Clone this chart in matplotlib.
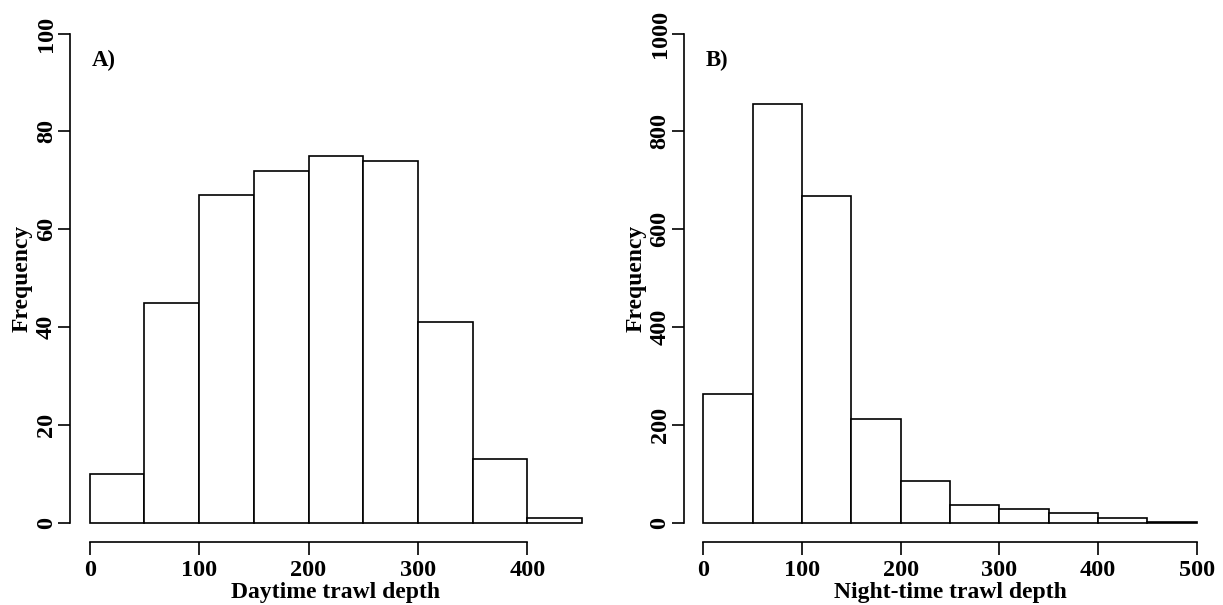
import matplotlib
matplotlib.use("Agg")
import matplotlib.pyplot as plt

plt.rcParams['font.family'] = ['Liberation Serif', 'DejaVu Serif']
plt.rcParams['font.weight'] = 'bold'

# Data
day_bin_edges = [0, 50, 100, 150, 200, 250, 300, 350, 400, 450]
day_counts = [10, 45, 67, 72, 75, 74, 41, 13, 1]
night_bin_edges = [0, 50, 100, 150, 200, 250, 300, 350, 400, 450, 500]
night_counts = [264, 857, 668, 212, 86, 36, 29, 21, 10, 2]

day_xticks = [0, 100, 200, 300, 400]
day_yticks = [0, 20, 40, 60, 80, 100]
night_xticks = [0, 100, 200, 300, 400, 500]
night_yticks = [0, 200, 400, 600, 800, 1000]

fig = plt.figure(figsize=(12.23, 6.05), dpi=100)
ax1 = fig.add_axes([0.0572, 0.1035, 0.4349, 0.8734])
ax2 = fig.add_axes([0.5590, 0.1035, 0.4356, 0.8734])

FS = 17


def draw(ax, edges, counts, xticks, yticks, xlabel, tag):
    lefts = edges[:-1]
    widths = [b - a for a, b in zip(edges[:-1], edges[1:])]
    ax.bar(lefts, counts, width=widths, align='edge', facecolor='white',
           edgecolor='black', linewidth=1.2)
    xr = edges[-1] - edges[0]
    yr = yticks[-1] - yticks[0]
    ax.set_xlim(edges[0] - 0.04 * xr, edges[-1] + 0.04 * xr)
    ax.set_ylim(yticks[0] - 0.04 * yr, yticks[-1] + 0.04 * yr)
    for s in ['top', 'right']:
        ax.spines[s].set_visible(False)
    ax.spines['left'].set_bounds(yticks[0], yticks[-1])
    ax.spines['bottom'].set_bounds(xticks[0], xticks[-1])
    for s in ['left', 'bottom']:
        ax.spines[s].set_linewidth(1.2)
    ax.set_xticks(xticks)
    ax.set_yticks(yticks)
    ax.set_xticklabels([str(t) for t in xticks], fontsize=FS + 0.5, fontweight='bold')
    ax.set_yticklabels([str(t) for t in yticks], fontsize=FS + 0.5, fontweight='bold',
                       rotation=90, va='center', ha='center')
    ax.tick_params(axis='x', length=9, width=1.2, pad=3.5)
    ax.tick_params(axis='y', length=9, width=1.2, pad=8)
    ax.set_xlabel(xlabel, fontsize=FS, fontweight='bold', labelpad=1)
    ax.set_ylabel('Frequency', fontsize=FS, fontweight='bold', labelpad=2)
    ax.text(edges[0] + 0.004 * xr, yticks[-1] * 0.945, tag, fontsize=FS - 0.5,
            fontweight='bold', ha='left', va='center')


draw(ax1, day_bin_edges, day_counts, day_xticks, day_yticks,
     'Daytime trawl depth', 'A)')
draw(ax2, night_bin_edges, night_counts, night_xticks, night_yticks,
     'Night-time trawl depth', 'B)')

fig.savefig('out.png', dpi=100, facecolor='white')
